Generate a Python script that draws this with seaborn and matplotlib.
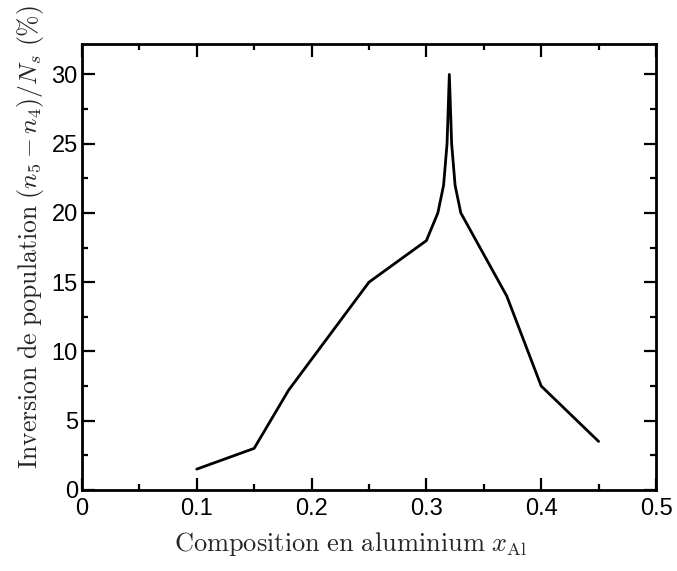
import matplotlib
matplotlib.use("Agg")
import matplotlib.pyplot as plt
import seaborn as sns
import pandas as pd
from matplotlib.ticker import MultipleLocator

x_al = [0.10, 0.15, 0.18, 0.25, 0.30, 0.31, 0.315, 0.318, 0.32, 0.322, 0.325, 0.33, 0.37, 0.40, 0.45]
inversion = [1.5, 3.0, 7.2, 15.0, 18.0, 20.0, 22.0, 25.0, 30.0, 25.0, 22.0, 20.0, 14.0, 7.5, 3.5]
xticks = [0, 0.1, 0.2, 0.3, 0.4, 0.5]
xticklabels = ["0", "0.1", "0.2", "0.3", "0.4", "0.5"]
yticks = [0, 5, 10, 15, 20, 25, 30]

sns.set_theme(style="ticks")
plt.rcParams["font.family"] = ["Liberation Sans", "DejaVu Sans"]
plt.rcParams["mathtext.fontset"] = "cm"

df = pd.DataFrame({"x": x_al, "y": inversion})

fig = plt.figure(figsize=(6.77, 5.71), dpi=100)
ax = fig.add_axes([0.121, 0.142, 0.848, 0.781])
sns.lineplot(data=df, x="x", y="y", ax=ax, color="black", linewidth=2.0, sort=False, estimator=None)

ax.set_xlim(0, 0.5)
ax.set_ylim(0, 32.2)
ax.set_xticks(xticks)
ax.set_xticklabels(xticklabels)
ax.set_yticks(yticks)
ax.xaxis.set_minor_locator(MultipleLocator(0.05))
ax.yaxis.set_minor_locator(MultipleLocator(2.5))
ax.tick_params(which="both", direction="in", top=True, right=True, width=1.6, labelsize=17, colors="black")
ax.tick_params(axis="x", which="major", pad=6)
ax.tick_params(axis="y", which="major", pad=3)
ax.tick_params(which="major", length=9)
ax.tick_params(which="minor", length=4.5)
for s in ax.spines.values():
    s.set_linewidth(2)
    s.set_color("black")

ax.set_xlabel(r"$\mathrm{Composition\ en\ aluminium}\ x_{\mathrm{Al}}$", fontsize=19, labelpad=7)
ax.set_ylabel(r"$\mathrm{Inversion\ de\ population}\ (n_5 - n_4)/N_s\ (\%)$", fontsize=18.5, labelpad=4)
ax.xaxis.label.set_x(0.469)
ax.yaxis.label.set_y(0.568)

fig.savefig("out.png", dpi=100)
